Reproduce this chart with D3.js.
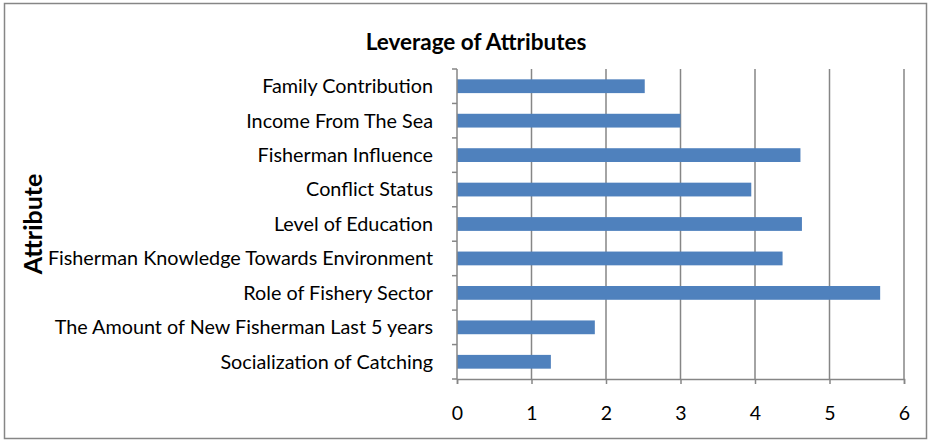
<!DOCTYPE html>
<html>
<head>
<meta charset="utf-8">
<script src="https://cdn.jsdelivr.net/npm/d3@7"></script>
<style>
  body { margin: 0; background: #fff; }
  svg { display: block; font-family: Lato, "Open Sans", sans-serif; }
</style>
</head>
<body>
<svg width="931" height="441"></svg>
<script>
const attributes = [
    'Family Contribution',
    'Income From The Sea',
    'Fisherman Influence',
    'Conflict Status',
    'Level of Education',
    'Fisherman Knowledge Towards Environment',
    'Role of Fishery Sector',
    'The Amount of New Fisherman Last 5 years',
    'Socialization of Catching'
];
const leverage = [2.52, 3.0, 4.61, 3.95, 4.63, 4.37, 5.68, 1.85, 1.26];
const xTicks = [0, 1, 2, 3, 4, 5, 6];

const svg = d3.select('svg');
const plotLeft = 457, plotRight = 904, plotTop = 69, plotBottom = 379;
const gridColor = '#868686';

// outer frame
svg.append('rect')
    .attr('x', 4.5).attr('y', 3.5)
    .attr('width', 922).attr('height', 435)
    .attr('fill', 'none')
    .attr('stroke', gridColor)
    .attr('stroke-width', 1.5);

const x = d3.scaleLinear().domain([0, 6]).range([plotLeft, plotRight]);
const y = d3.scaleBand().domain(attributes).range([plotTop, plotBottom]).paddingInner(0.6).paddingOuter(0.3);

// vertical gridlines
svg.append('g').selectAll('line')
    .data(xTicks.slice(1))
    .enter()
    .append('line')
    .attr('x1', d => x(d)).attr('x2', d => x(d))
    .attr('y1', plotTop).attr('y2', plotBottom)
    .attr('stroke', gridColor)
    .attr('stroke-width', 1.5);

// bars
svg.append('g').selectAll('rect')
    .data(attributes)
    .enter()
    .append('rect')
    .attr('x', x(0))
    .attr('y', d => y(d))
    .attr('width', (d, i) => x(leverage[i]) - x(0))
    .attr('height', y.bandwidth())
    .attr('fill', '#4f81bd');

// x axis
const xAxis = svg.append('g')
    .attr('transform', `translate(0,${plotBottom})`)
    .call(d3.axisBottom(x).tickValues(xTicks).tickSize(5).tickPadding(22).tickFormat(d3.format('d')));
xAxis.select('.domain').attr('stroke', gridColor).attr('stroke-width', 1.5);
xAxis.selectAll('.tick line').attr('stroke', gridColor).attr('stroke-width', 1.5);
xAxis.selectAll('.tick text')
    .attr('fill', '#000')
    .style('font-size', '19.5px')
    .style('font-family', 'Lato, "Open Sans", sans-serif');

// y axis: ticks sit between categories
const step = (plotBottom - plotTop) / attributes.length;
const yAxis = svg.append('g');
yAxis.append('line')
    .attr('x1', plotLeft).attr('x2', plotLeft)
    .attr('y1', plotTop).attr('y2', plotBottom)
    .attr('stroke', gridColor).attr('stroke-width', 1.5);
yAxis.selectAll('line.tk')
    .data(d3.range(attributes.length + 1))
    .enter()
    .append('line')
    .attr('class', 'tk')
    .attr('x1', plotLeft - 5).attr('x2', plotLeft)
    .attr('y1', i => plotTop + i * step).attr('y2', i => plotTop + i * step)
    .attr('stroke', gridColor).attr('stroke-width', 1.5);
yAxis.selectAll('text')
    .data(attributes)
    .enter()
    .append('text')
    .attr('x', 433)
    .attr('y', d => y(d) + y.bandwidth() / 2)
    .attr('dy', '0.35em')
    .attr('text-anchor', 'end')
    .style('font-size', '19.8px')
    .text(d => d);

// title
svg.append('text')
    .attr('x', 476).attr('y', 50)
    .attr('text-anchor', 'middle')
    .style('font-size', '22.5px')
    .style('font-weight', 'bold')
    .text('Leverage of Attributes');

// y axis title
svg.append('text')
    .attr('transform', 'translate(42,224) rotate(-90)')
    .attr('text-anchor', 'middle')
    .style('font-size', '25px')
    .style('font-weight', 'bold')
    .text('Attribute');
</script>
</body>
</html>
